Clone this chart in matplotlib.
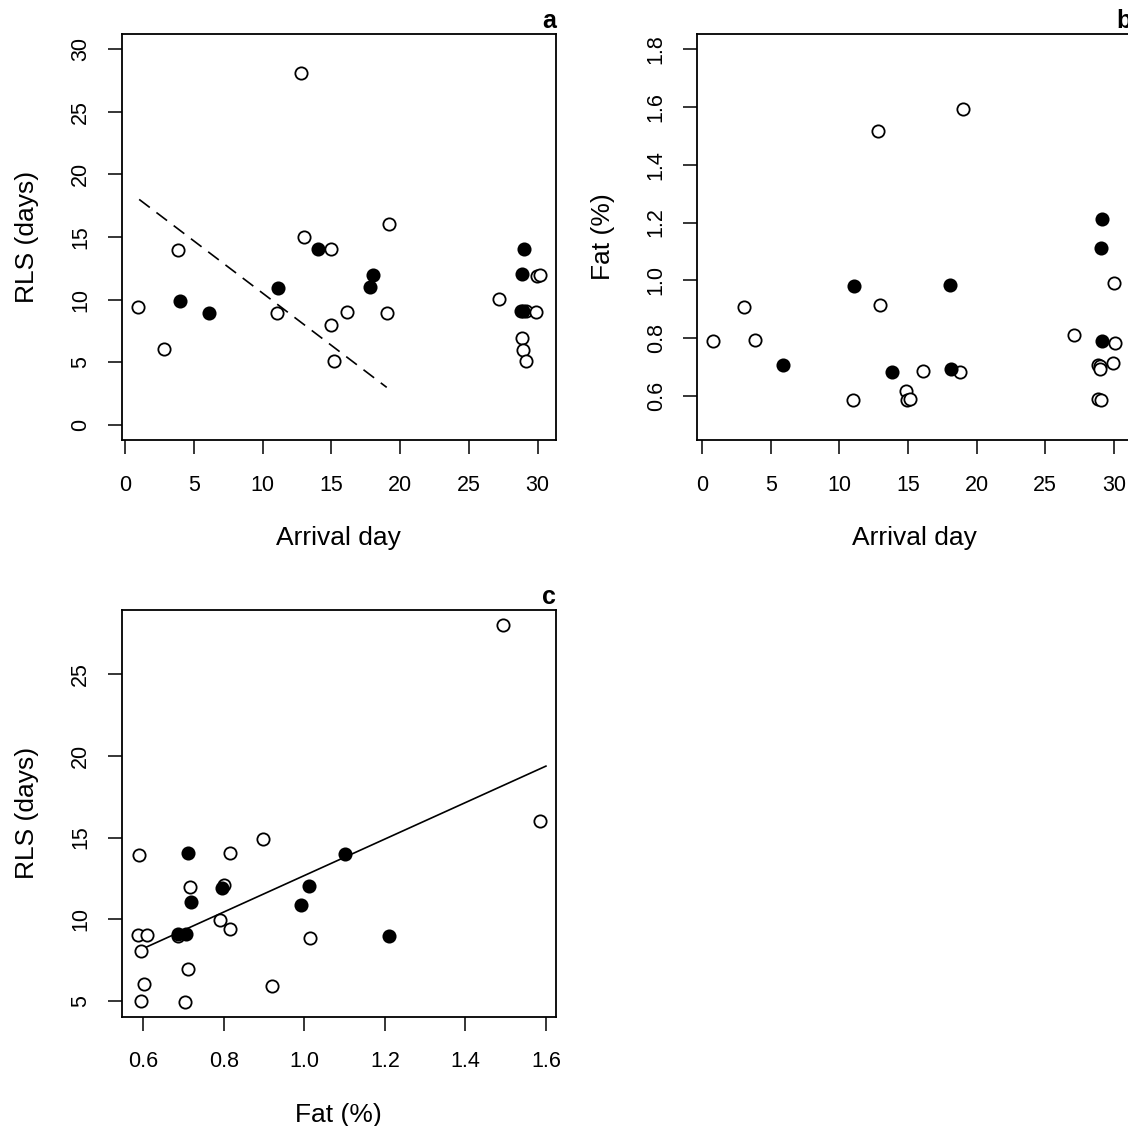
import numpy as np
import matplotlib
matplotlib.use("Agg")
import matplotlib.pyplot as plt

plt.rcParams['font.family'] = ['Liberation Sans', 'DejaVu Sans']

# panel a: arrival day vs RLS
a_open_x = [0.92, 2.86, 3.88, 11.02, 12.81, 13.01, 15.0, 15.0, 15.19, 16.11,
            19.16, 19.04, 27.18, 28.83, 28.92, 29.14, 29.14, 29.89, 29.92, 30.16]
a_open_y = [9.45, 6.1, 13.93, 8.94, 28.08, 15.02, 14.07, 7.96, 5.07, 9.0,
            16.03, 8.97, 10.06, 6.95, 6.0, 5.1, 9.1, 9.05, 11.89, 12.0]
a_fill_x = [4.0, 6.1, 11.09, 14.05, 17.83, 18.05, 29.0, 28.88, 28.78, 28.95]
a_fill_y = [9.93, 8.97, 10.96, 14.07, 11.01, 12.0, 14.07, 12.02, 9.1, 9.1]
a_fit_x = [1.02, 19.02]
a_fit_y = [18.0, 3.0]

# panel b: arrival day vs fat
b_open_x = [0.83, 3.04, 3.84, 11.01, 12.84, 12.98, 14.88, 14.93, 15.12, 16.07,
            18.79, 19.01, 27.08, 28.88, 29.02, 29.02, 28.88, 29.1, 29.95, 30.1, 30.05]
b_open_y = [0.791, 0.907, 0.795, 0.588, 1.518, 0.915, 0.618, 0.586, 0.591, 0.686,
            0.683, 1.594, 0.81, 0.709, 0.704, 0.692, 0.591, 0.585, 0.715, 0.783, 0.99]
b_fill_x = [5.86, 11.09, 13.83, 18.09, 18.14, 29.13, 29.08, 29.13]
b_fill_y = [0.708, 0.981, 0.682, 0.985, 0.693, 1.213, 1.112, 0.79]

# panel c: fat vs RLS
c_open_x = [0.589, 0.586, 0.61, 0.593, 0.601, 0.594, 0.687, 0.71, 0.704, 0.716,
            0.79, 0.801, 0.814, 0.816, 0.897, 0.92, 1.015, 1.493, 1.585]
c_open_y = [13.91, 9.04, 9.02, 8.04, 6.06, 5.0, 8.98, 6.94, 4.96, 11.97,
            9.97, 12.07, 14.07, 9.42, 14.89, 5.9, 8.87, 27.98, 16.03]
c_fill_x = [0.71, 0.718, 0.685, 0.706, 0.795, 0.992, 1.011, 1.102, 1.209]
c_fill_y = [14.03, 11.08, 9.08, 9.08, 11.93, 10.87, 12.05, 14.01, 8.98]
c_fit_x = [0.602, 1.6]
c_fit_y = [8.24, 19.37]

W, H = 1128, 1126
fig = plt.figure(figsize=(W / 100, H / 100), dpi=100)

def box(l, t, r, b):
    return [l / W, 1 - b / H, (r - l) / W, (b - t) / H]

ax_a = fig.add_axes(box(121.7, 34, 556, 440))
ax_b = fig.add_axes(box(697.3, 34, 1131.6, 440))
ax_c = fig.add_axes(box(121.7, 610, 556, 1016.7))

def style(ax, letter, xlabel, ylabel):
    for s in ax.spines.values():
        s.set_linewidth(1.3)
    ax.tick_params(length=10, width=1.1, labelsize=15.5)
    ax.tick_params(axis='x', pad=15)
    ax.tick_params(axis='y', pad=12, labelrotation=90)
    for lab in ax.get_yticklabels():
        lab.set_va('center')
    ax.set_xlabel(xlabel, fontsize=19)
    ax.set_ylabel(ylabel, fontsize=19)
    ax.xaxis.set_label_coords(0.5, -0.213)
    ax.yaxis.set_label_coords(-0.19, 0.5)
    ax.set_title(letter, loc='right', fontweight='bold', fontsize=18, pad=4)

def points(ax, ox, oy, fx, fy):
    ax.scatter(ox, oy, s=78, facecolors='white', edgecolors='black', linewidths=1.3, zorder=3)
    ax.scatter(fx, fy, s=78, facecolors='black', edgecolors='black', linewidths=1.3, zorder=3)

# a
points(ax_a, a_open_x, a_open_y, a_fill_x, a_fill_y)
ax_a.plot(a_fit_x, a_fit_y, color='black', lw=1.2, linestyle=(0, (8, 5)))
ax_a.set_xlim(-0.25, 31.33)
ax_a.set_ylim(-1.2, 31.2)
ax_a.set_xticks(np.arange(0, 31, 5))
ax_a.set_yticks(np.arange(0, 31, 5))
style(ax_a, 'a', 'Arrival day', 'RLS (days)')

# b
points(ax_b, b_open_x, b_open_y, b_fill_x, b_fill_y)
ax_b.set_xlim(-0.35, 31.3)
ax_b.set_ylim(0.448, 1.852)
ax_b.set_xticks(np.arange(0, 31, 5))
ax_b.set_yticks([0.6, 0.8, 1.0, 1.2, 1.4, 1.6, 1.8])
ax_b.set_yticklabels(['0.6', '0.8', '1.0', '1.2', '1.4', '1.6', '1.8'])
style(ax_b, 'b', 'Arrival day', 'Fat (%)')

# c
points(ax_c, c_open_x, c_open_y, c_fill_x, c_fill_y)
ax_c.plot(c_fit_x, c_fit_y, color='black', lw=1.2)
ax_c.set_xlim(0.546, 1.625)
ax_c.set_ylim(4.04, 28.92)
ax_c.set_xticks([0.6, 0.8, 1.0, 1.2, 1.4, 1.6])
ax_c.set_xticklabels(['0.6', '0.8', '1.0', '1.2', '1.4', '1.6'])
ax_c.set_yticks([5, 10, 15, 20, 25])
style(ax_c, 'c', 'Fat (%)', 'RLS (days)')

fig.savefig('out.png', dpi=100)
